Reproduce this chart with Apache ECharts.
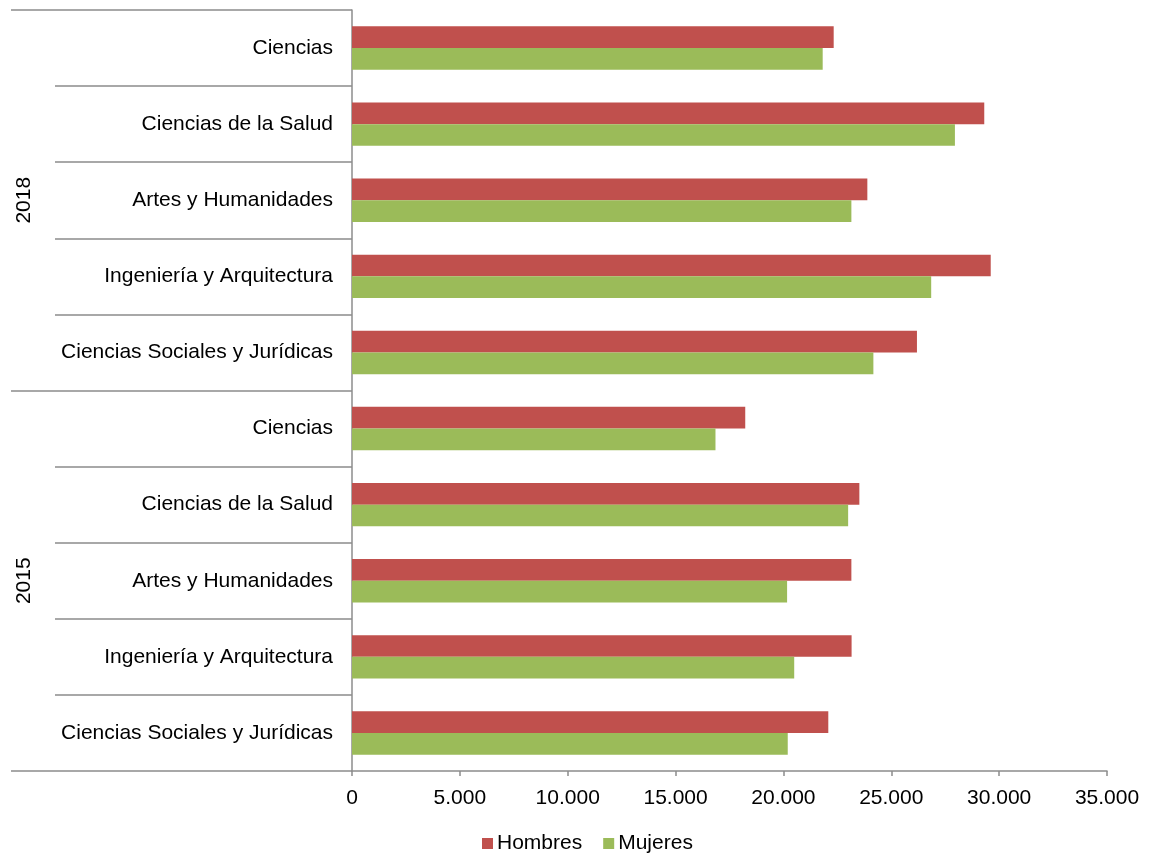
<!DOCTYPE html>
<html>
<head>
<meta charset="utf-8">
<script src="https://cdn.jsdelivr.net/npm/echarts@6/dist/echarts.min.js"></script>
<style>
html,body{margin:0;padding:0;background:#fff;}
#main{width:1150px;height:857px;}
</style>
</head>
<body>
<div id="main"></div>
<script>
// categorias de abajo hacia arriba
var areas = ['Ciencias Sociales y Jurídicas','Ingeniería y Arquitectura','Artes y Humanidades','Ciencias de la Salud','Ciencias',
             'Ciencias Sociales y Jurídicas','Ingeniería y Arquitectura','Artes y Humanidades','Ciencias de la Salud','Ciencias'];
var years = ['2015','2018'];
var hombres = [22080,23160,23150,23520,18230, 26190,29610,23890,29310,22330];
var mujeres = [20200,20500,20170,23000,16850, 24170,26850,23150,27950,21820];
var xTicks = [0,5000,10000,15000,20000,25000,30000,35000];

var font = 'Liberation Sans, Arial, sans-serif';
var gris = '#8c8c8c';

function miles(v){
    return String(v).replace(/\B(?=(\d{3})+(?!\d))/g, '.');
}

var myChart = echarts.init(document.getElementById('main'));
var option = {
    animation:false,
    backgroundColor:'#fff',
    textStyle:{fontFamily:font},
    grid:{left:352, top:10, right:43, bottom:86, containLabel:false},
    legend:{
        data:['Hombres','Mujeres'],
        top:828,
        left:477,
        icon:'rect',
        itemWidth:11,
        itemHeight:11,
        itemGap:21,
        textStyle:{fontSize:21, color:'#000', fontFamily:font, padding:[0,0,0,-1]}
    },
    xAxis:{
        type:'value',
        min:xTicks[0],
        max:xTicks[xTicks.length-1],
        interval:5000,
        axisLine:{show:true, lineStyle:{color:gris, width:1.5}},
        axisTick:{show:true, length:5, lineStyle:{color:gris, width:1.5}},
        splitLine:{show:false},
        axisLabel:{fontSize:21, color:'#000', margin:17, formatter:miles}
    },
    yAxis:[{
        type:'category',
        data:areas,
        position:'left',
        axisLine:{show:true, lineStyle:{color:gris, width:1.5}},
        axisTick:{show:true, length:297, lineStyle:{color:gris, width:1.5}},
        axisLabel:{fontSize:21, color:'#000', margin:19}
    },{
        type:'category',
        data:years,
        position:'left',
        axisLine:{show:false},
        axisTick:{show:true, length:341, lineStyle:{color:gris, width:1.5}},
        axisLabel:{fontSize:21, color:'#000', rotate:90, margin:317}
    }],
    series:[{
        name:'Hombres',
        type:'bar',
        yAxisIndex:0,
        data:hombres,
        barGap:'0%',
        barCategoryGap:'43%',
        itemStyle:{color:'#C0504D'}
    },{
        name:'Mujeres',
        type:'bar',
        yAxisIndex:0,
        data:mujeres,
        barGap:'0%',
        barCategoryGap:'43%',
        itemStyle:{color:'#9BBB59'}
    }]
};
myChart.setOption(option);
</script>
</body>
</html>
